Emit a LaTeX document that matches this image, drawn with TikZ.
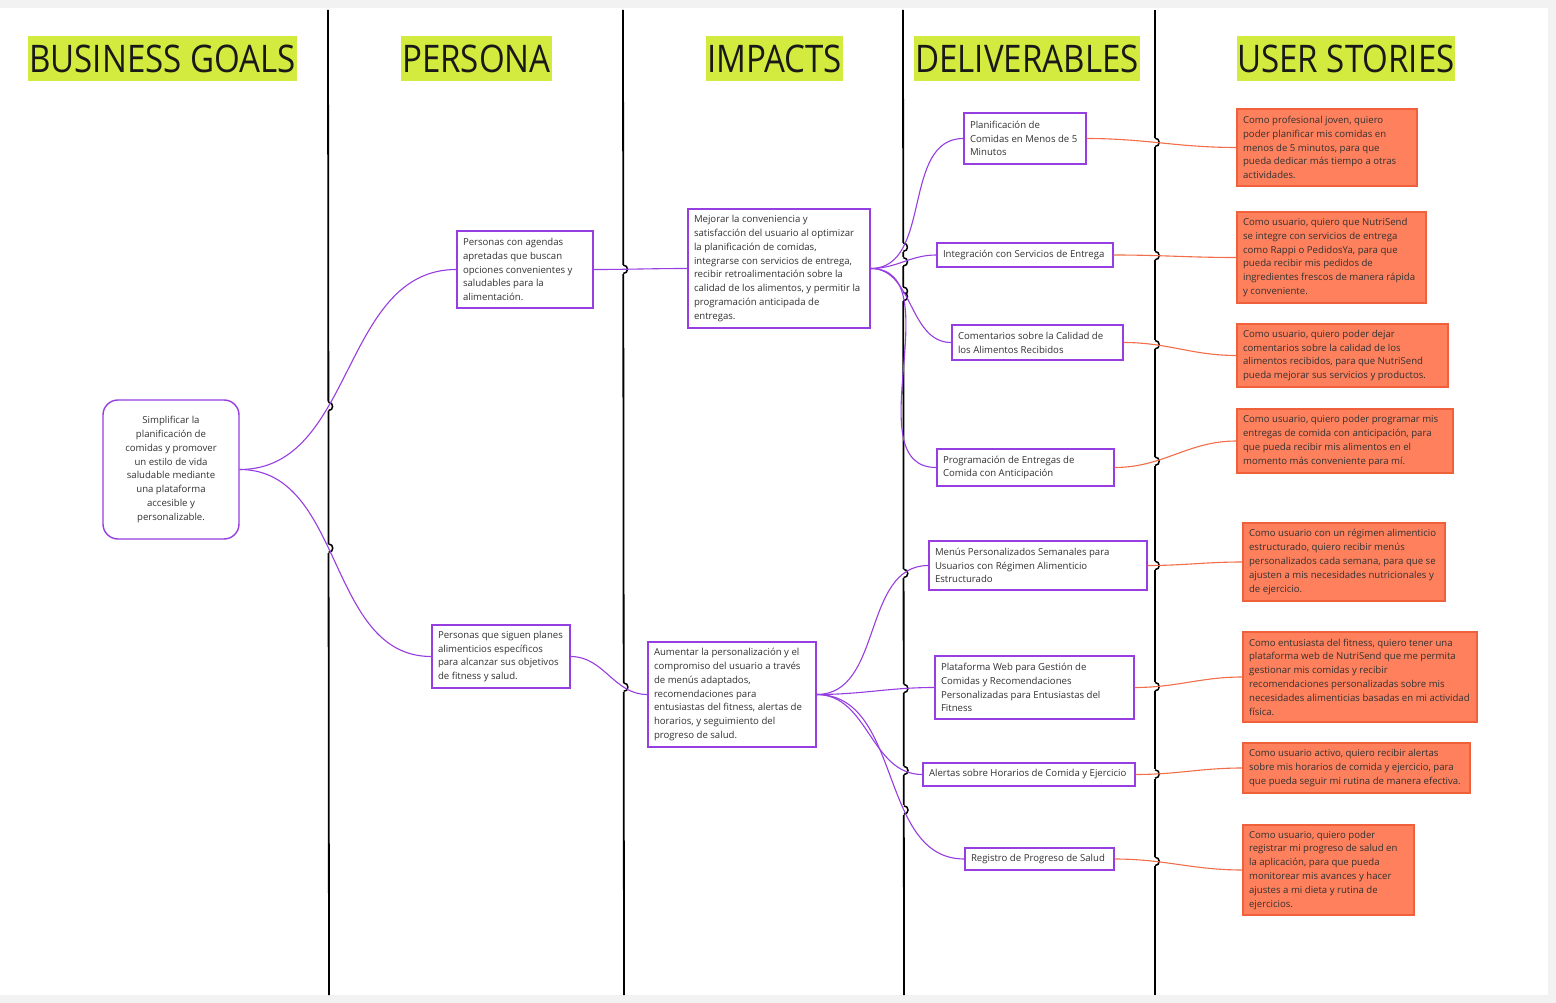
\documentclass[tikz,border=0pt]{standalone}
\usepackage{fontspec}
\setmainfont{Open Sans}
\newfontfamily\hdfont[FakeStretch=0.87]{Open Sans}
\usetikzlibrary{intersections,calc}
\pgfdeclarelayer{bgl}
\pgfdeclarelayer{midl}
\pgfsetlayers{bgl,midl,main}
\definecolor{hdcol}{RGB}{210,235,62}
\definecolor{purp}{RGB}{150,62,225}
\definecolor{orfill}{RGB}{255,128,92}
\definecolor{orline}{RGB}{240,96,58}
\definecolor{orconn}{RGB}{242,110,72}
\definecolor{txtgray}{RGB}{50,50,50}
\definecolor{bggray}{RGB}{242,242,242}
\tikzset{
  vl/.style={draw=black, line width=1.8pt},
  hdr/.style={fill=hdcol, inner sep=0pt, font=\hdfont\fontsize{38}{40}\selectfont, text=black!90},
  pbx/.style={draw=purp, line width=1.4pt, fill=white, inner sep=0pt},
  obx/.style={draw=orline, line width=1.2pt, fill=orfill, inner sep=0pt},
  txt/.style={inner sep=0pt, align=left, font=\fontsize{9.6}{13.8}\selectfont, text=txtgray},
  pconn/.style={draw=purp, line width=1.1pt},
  oconn/.style={draw=orconn, line width=1.1pt},
}
\newcommand\pbox[7]{%
  \node[#6, minimum width=#4, minimum height=#5] (#1) at (#2,#3) {};
  \node[txt, anchor=west] (#1t) at ($(#1.west)+(6.5,0)$) {#7};}
\newcommand\hop[2]{%
  \path[name intersections={of=#1 and #2, by=hp#1}];
  \begin{pgfonlayer}{midl}
  \fill[white] ($(hp#1)+(-1.7,-4.6)$) rectangle ($(hp#1)+(1.7,4.6)$);
  \draw[black, line width=1.5pt] ($(hp#1)+(0,-4.2)$) .. controls ($(hp#1)+(5.6,-4.2)$) and ($(hp#1)+(5.6,4.2)$) .. ($(hp#1)+(0,4.2)$);
  \end{pgfonlayer}}
\begin{document}
\begin{tikzpicture}[x=1pt,y=-1pt]
\useasboundingbox (0,0) rectangle (1556,1003);
\begin{pgfonlayer}{bgl}
\fill[bggray] (0,0) rectangle (1556,1003);
\fill[white] (0,8) rectangle (1548,995);
\draw[vl, name path=L1] (328,10) -- (329,995);
\draw[vl, name path=L2] (623,10) -- (624,995);
\draw[vl, name path=L3] (903,10) -- (904,995);
\draw[vl, name path=L4] (1155,10) -- (1155,995);
\end{pgfonlayer}

% headers
\node[hdr, minimum width=269, minimum height=45] (h1) at (162.5,58.5) {BUSINESS GOALS};
\node[hdr, minimum width=151, minimum height=45] (h2) at (476.5,58.5) {PERSONA};
\node[hdr, minimum width=137, minimum height=45] (h3) at (774.5,58.5) {IMPACTS};
\node[hdr, minimum width=226, minimum height=45] (h4) at (1027,58.5) {DELIVERABLES};
\node[hdr, minimum width=218, minimum height=45] (h5) at (1346,58.5) {USER STORIES};

% goal
\node[pbx, rounded corners=15pt, minimum width=136, minimum height=139] (g) at (171,469.5) {};
\node[txt, align=center] (gt) at (g.center) {Simplificar la\\planificación de\\comidas y promover\\un estilo de vida\\saludable mediante\\una plataforma\\accesible y\\personalizable.};

% personas
\pbox{p1}{525}{269.5}{136}{77}{pbx}{Personas con agendas\\apretadas que buscan\\opciones convenientes y\\saludables para la\\alimentación.}
\pbox{p2}{501}{656.5}{138}{63}{pbx}{Personas que siguen planes\\alimenticios específicos\\para alcanzar sus objetivos\\de fitness y salud.}

% impacts
\pbox{i1}{779}{268.5}{182}{119}{pbx}{Mejorar la conveniencia y\\satisfacción del usuario al optimizar\\la planificación de comidas,\\integrarse con servicios de entrega,\\recibir retroalimentación sobre la\\calidad de los alimentos, y permitir la\\programación anticipada de\\entregas.}
\pbox{i2}{732}{694.5}{168}{105}{pbx}{Aumentar la personalización y el\\compromiso del usuario a través\\de menús adaptados,\\recomendaciones para\\entusiastas del fitness, alertas de\\horarios, y seguimiento del\\progreso de salud.}

% deliverables
\pbox{d1}{1025}{138.5}{122}{51}{pbx}{Planificación de\\Comidas en Menos de 5\\Minutos}
\pbox{d2}{1025}{255}{176}{24}{pbx}{Integración con Servicios de Entrega}
\pbox{d3}{1037.5}{342.5}{171}{35}{pbx}{Comentarios sobre la Calidad de\\los Alimentos Recibidos}
\pbox{d4}{1025.5}{467.5}{177}{37}{pbx}{Programación de Entregas de\\Comida con Anticipación}
\pbox{d5}{1038}{565.5}{218}{49}{pbx}{Menús Personalizados Semanales para\\Usuarios con Régimen Alimenticio\\Estructurado}
\pbox{d6}{1034.5}{687.5}{199}{63}{pbx}{Plataforma Web para Gestión de\\Comidas y Recomendaciones\\Personalizadas para Entusiastas del\\Fitness}
\pbox{d7}{1029}{774.5}{212}{23}{pbx}{Alertas sobre Horarios de Comida y Ejercicio}
\pbox{d8}{1039.5}{859}{149}{22}{pbx}{Registro de Progreso de Salud}

% user stories
\pbox{s1}{1327}{147.5}{180}{77}{obx}{Como profesional joven, quiero\\poder planificar mis comidas en\\menos de 5 minutos, para que\\pueda dedicar más tiempo a otras\\actividades.}
\pbox{s2}{1331.5}{257.5}{189}{91}{obx}{Como usuario, quiero que NutriSend\\se integre con servicios de entrega\\como Rappi o PedidosYa, para que\\pueda recibir mis pedidos de\\ingredientes frescos de manera rápida\\y conveniente.}
\pbox{s3}{1342.5}{355.5}{211}{63}{obx}{Como usuario, quiero poder dejar\\comentarios sobre la calidad de los\\alimentos recibidos, para que NutriSend\\pueda mejorar sus servicios y productos.}
\pbox{s4}{1345}{441}{216}{64}{obx}{Como usuario, quiero poder programar mis\\entregas de comida con anticipación, para\\que pueda recibir mis alimentos en el\\momento más conveniente para mí.}
\pbox{s5}{1344}{562}{202}{78}{obx}{Como usuario con un régimen alimenticio\\estructurado, quiero recibir menús\\personalizados cada semana, para que se\\ajusten a mis necesidades nutricionales y\\de ejercicio.}
\pbox{s6}{1360}{677}{234}{90}{obx}{Como entusiasta del fitness, quiero tener una\\plataforma web de NutriSend que me permita\\gestionar mis comidas y recibir\\recomendaciones personalizadas sobre mis\\necesidades alimenticias basadas en mi actividad\\física.}
\pbox{s7}{1356.5}{768}{227}{50}{obx}{Como usuario activo, quiero recibir alertas\\sobre mis horarios de comida y ejercicio, para\\que pueda seguir mi rutina de manera efectiva.}
\pbox{s8}{1328.5}{870}{171}{90}{obx}{Como usuario, quiero poder\\registrar mi progreso de salud en\\la aplicación, para que pueda\\monitorear mis avances y hacer\\ajustes a mi dieta y rutina de\\ejercicios.}

% connectors
\draw[pconn, name path=ca] (g.east) to[out=0,in=180] (p1.west); \hop{ca}{L1}
\draw[pconn, name path=cb] (g.east) to[out=0,in=180] (p2.west); \hop{cb}{L1}
\draw[pconn, name path=cc] (p1.east) to[out=0,in=180] (i1.west); \hop{cc}{L2}
\draw[pconn, name path=cd] (p2.east) to[out=0,in=180] (i2.west); \hop{cd}{L2}
\draw[pconn, name path=ce] (i1.east) to[out=0,in=180] (d1.west); \hop{ce}{L3}
\draw[pconn, name path=cf] (i1.east) to[out=0,in=180] (d2.west); \hop{cf}{L3}
\draw[pconn, name path=cg] (i1.east) to[out=0,in=180] (d3.west); \hop{cg}{L3}
\draw[pconn, name path=ch] (i1.east) to[out=0,in=180] (d4.west); \hop{ch}{L3}
\draw[pconn, name path=ci] (i2.east) to[out=0,in=180] (d5.west); \hop{ci}{L3}
\draw[pconn, name path=cj] (i2.east) to[out=0,in=180] (d6.west); \hop{cj}{L3}
\draw[pconn, name path=ck] (i2.east) to[out=0,in=180] (d7.west); \hop{ck}{L3}
\draw[pconn, name path=cl] (i2.east) to[out=0,in=180] (d8.west); \hop{cl}{L3}
\draw[oconn, name path=cm] (d1.east) to[out=0,in=180] (s1.west); \hop{cm}{L4}
\draw[oconn, name path=cn] (d2.east) to[out=0,in=180] (s2.west); \hop{cn}{L4}
\draw[oconn, name path=co] (d3.east) to[out=0,in=180] (s3.west); \hop{co}{L4}
\draw[oconn, name path=cp] (d4.east) to[out=0,in=180] (s4.west); \hop{cp}{L4}
\draw[oconn, name path=cq] (d5.east) to[out=0,in=180] (s5.west); \hop{cq}{L4}
\draw[oconn, name path=cr] (d6.east) to[out=0,in=180] (s6.west); \hop{cr}{L4}
\draw[oconn, name path=cs] (d7.east) to[out=0,in=180] (s7.west); \hop{cs}{L4}
\draw[oconn, name path=ct] (d8.east) to[out=0,in=180] (s8.west); \hop{ct}{L4}
\end{tikzpicture}
\end{document}
